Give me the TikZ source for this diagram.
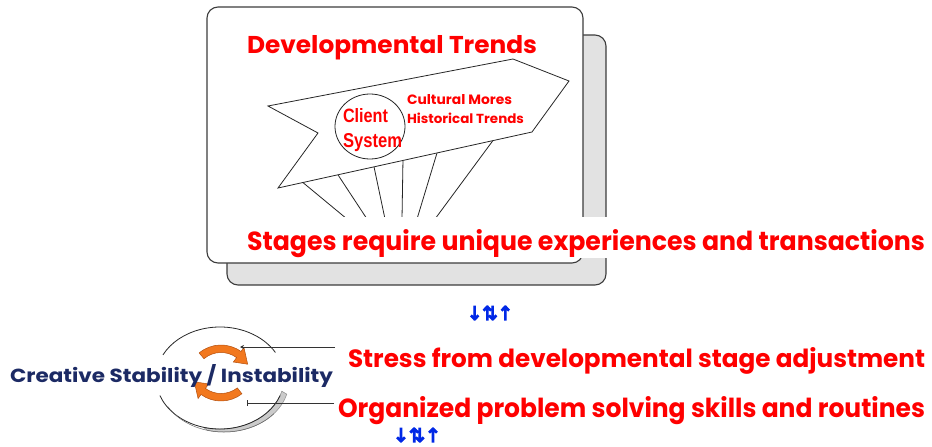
\documentclass[tikz,border=0pt]{standalone}
\usepackage{fontspec}
\newfontfamily\gothic{Poppins}
\newfontfamily\arialf{Liberation Sans}
\newfontfamily\djv[FakeBold=6]{DejaVu Sans}
\usetikzlibrary{arrows.meta,calc}
\definecolor{tred}{RGB}{255,0,0}
\definecolor{navy}{RGB}{28,42,100}
\definecolor{orA}{RGB}{242,120,30}
\definecolor{orB}{RGB}{180,80,15}
\definecolor{blueA}{RGB}{0,40,230}
\definecolor{shadowgray}{RGB}{226,226,226}
\definecolor{bordergray}{RGB}{60,60,60}
\begin{document}
\begin{tikzpicture}[x=1pt,y=-1pt,
  boxline/.style={draw=bordergray,line width=1.1pt,rounded corners=11pt},
  thinline/.style={draw=black!85,line width=0.8pt},
  txt/.style={inner sep=0pt,outer sep=0pt,anchor=base west},
  redtxt/.style={txt,text=tred},
  orarrow/.style={fill=orA,draw=orB,line width=0.5pt},
  conn/.style={draw=black!80,line width=0.8pt},
  bluearr/.style={inner sep=0pt,text=blueA}]
\useasboundingbox (0,0) rectangle (932,447);
% boxes
\draw[boxline,fill=shadowgray] (227,35) rectangle (606,285);
\draw[boxline,fill=white] (207,7) rectangle (583,263);
% pennant
\coordinate (pA) at (268,106);
\coordinate (pB) at (513,59);
\coordinate (pC) at (569,81);
\coordinate (pD) at (532,132);
\coordinate (pE) at (278,188);
\coordinate (pF) at (318,133);
\foreach \t/\ex in {0.098/347,0.236/367,0.378/385,0.492/402,0.626/417,0.846/435}
  \draw[thinline] ($(pE)!\t!(pD)$) -- (\ex,219);
\draw[thinline,fill=white] (pA)--(pB)--(pC)--(pD)--(pE)--(pF)--cycle;
\draw[thinline] (370,126.5) ellipse [x radius=35,y radius=32.5];
% white band behind the stages text
\fill[white] (238,217) rectangle (932,258);
% texts top
\node[redtxt] (dev) at (247,53) {\resizebox{290pt}{18pt}{\gothic\bfseries Developmental Trends}};
\node[redtxt] (client) at (343,122) {\resizebox{45pt}{14pt}{\arialf\bfseries Client}};
\node[redtxt] (system) at (343,147) {\resizebox{59pt}{14pt}{\arialf\bfseries System}};
\node[redtxt] (mores) at (407,104) {\resizebox{105pt}{10pt}{\gothic\bfseries Cultural Mores}};
\node[redtxt] (hist) at (407,123) {\resizebox{117pt}{10.5pt}{\gothic\bfseries Historical Trends}};
\node[redtxt] (stages) at (247,250) {\resizebox{678pt}{21pt}{\gothic\bfseries Stages require unique experiences and transactions}};
% blue arrows
\node[bluearr] (arr1) at (490,313) {\resizebox*{46pt}{14pt}{\djv ↓⇅↑}};
\node[bluearr] (arr2) at (417,435) {\resizebox*{48pt}{14pt}{\djv ↓⇅↑}};
% cycle ellipse
\coordinate (E1) at (220,378);
\coordinate (E2) at (224,381);
\fill[shadowgray!90!black,draw=black!45,line width=0.5pt] ($(E2)+(15:65 and 51)$) arc[start angle=15,end angle=105,x radius=65,y radius=51]
  -- ($(E1)+(105:64 and 51)$) arc[start angle=105,end angle=15,x radius=64,y radius=51] -- cycle;
\draw[thinline] ($(E1)+(207:64 and 51)$) arc[start angle=207,end angle=330,x radius=64,y radius=51];
\draw[thinline] ($(E1)+(20:64 and 51)$) arc[start angle=20,end angle=160,x radius=64,y radius=51];
\draw[black!60,line width=0.5pt] ($(E2)+(40:65 and 51)$) arc[start angle=40,end angle=150,x radius=65,y radius=51];
% orange circular arrows
\coordinate (T) at (221,379);
\coordinate (B) at (221,367);
\path[orarrow] ($(T)+(230:34)$) arc[start angle=230,end angle=306,radius=34]
  -- ($(T)+(306:39)$) -- ($(T)+(331:30.5)$) -- ($(T)+(306:21)$) -- ($(T)+(306:26.5)$)
  arc[start angle=306,end angle=230,radius=26.5] -- cycle;
\path[orarrow] ($(B)+(52:34)$) arc[start angle=52,end angle=126,radius=34]
  -- ($(B)+(126:39)$) -- ($(B)+(151:30.5)$) -- ($(B)+(126:21)$) -- ($(B)+(126:26.5)$)
  arc[start angle=126,end angle=52,radius=26.5] -- cycle;
% connectors
\coordinate (s0) at (335,347);
\coordinate (s1) at (240,347);
\coordinate (o0) at (334,403);
\coordinate (o1) at (247,403);
\draw[conn,-{Stealth[length=4pt,width=4pt]}] (s0) -- (s1);
\draw[conn,-{Bar[width=6pt]}] (o0) -- (o1);
% bottom texts
\node[redtxt] (stress) at (348,367) {\resizebox{577pt}{20pt}{\gothic\bfseries Stress from developmental stage adjustment}};
\node[redtxt] (organized) at (338,417) {\resizebox{587pt}{21pt}{\gothic\bfseries Organized problem solving skills and routines}};
\node[txt,text=navy] (creative) at (10,382) {\resizebox{323pt}{18pt}{\gothic\bfseries Creative Stability / Instability}};
\end{tikzpicture}
\end{document}
